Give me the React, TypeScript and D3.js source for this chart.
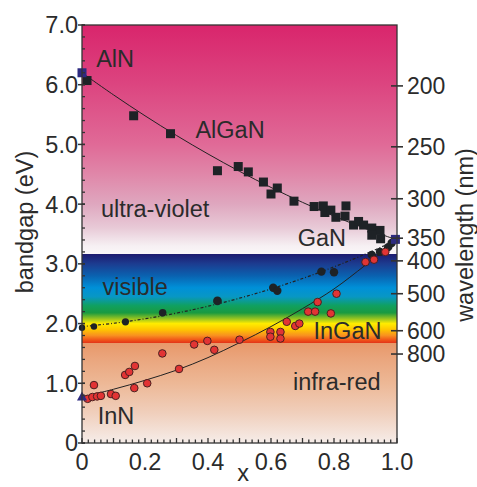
import React from "react";
import * as d3 from "d3";

// ---- data ----
const alganX = [0.016, 0.164, 0.281, 0.43, 0.496, 0.528, 0.576, 0.6, 0.62, 0.673, 0.737, 0.766, 0.771, 0.79, 0.806, 0.838, 0.835, 0.862, 0.878, 0.894, 0.92, 0.946, 0.92, 0.948];
const alganE = [6.07, 5.48, 5.18, 4.56, 4.63, 4.54, 4.37, 4.17, 4.27, 4.05, 3.96, 3.97, 3.86, 3.9, 3.78, 3.97, 3.8, 3.65, 3.71, 3.65, 3.6, 3.56, 3.48, 3.42];
const alganFitX = [0, 0.1, 0.2, 0.3, 0.4, 0.5, 0.6, 0.7, 0.8, 0.9, 1.0];
const alganFitE = [6.2, 5.83, 5.48, 5.15, 4.84, 4.55, 4.28, 4.03, 3.8, 3.59, 3.4];

const ingBlackX = [0.0, 0.038, 0.138, 0.256, 0.43, 0.607, 0.62, 0.76, 0.8, 0.92, 0.946, 0.972, 0.983];
const ingBlackE = [1.93, 1.95, 2.03, 2.18, 2.38, 2.6, 2.55, 2.87, 2.86, 3.15, 3.2, 3.28, 3.35];
const ingBlackR = [3.2, 3.2, 3.6, 3.8, 4.4, 4.2, 4.2, 4.2, 4.2, 4.2, 4.2, 4.2, 4.2];
const ingBlackFitX = [0, 0.1, 0.2, 0.3, 0.4, 0.5, 0.6, 0.7, 0.8, 0.9, 1.0];
const ingBlackFitE = [1.95, 2.005, 2.08, 2.175, 2.29, 2.425, 2.58, 2.755, 2.95, 3.165, 3.4];

const ingRedX = [0.018, 0.033, 0.048, 0.06, 0.038, 0.092, 0.107, 0.137, 0.15, 0.168, 0.166, 0.207, 0.255, 0.308, 0.356, 0.398, 0.42, 0.5, 0.598, 0.598, 0.63, 0.63, 0.65, 0.677, 0.69, 0.718, 0.74, 0.748, 0.79, 0.808, 0.9, 0.927, 0.963];
const ingRedE = [0.74, 0.77, 0.78, 0.79, 0.97, 0.82, 0.79, 1.14, 1.19, 1.29, 0.92, 1.0, 1.5, 1.24, 1.65, 1.71, 1.56, 1.73, 1.86, 1.78, 1.86, 1.75, 2.03, 1.96, 2.0, 2.2, 2.2, 2.36, 2.17, 2.5, 3.03, 3.07, 3.2];
const ingRedFitX = [0, 0.1, 0.2, 0.3, 0.4, 0.5, 0.6, 0.7, 0.8, 0.9, 1.0];
const ingRedFitE = [0.77, 0.9, 1.05, 1.22, 1.43, 1.68, 1.95, 2.25, 2.58, 2.98, 3.4];

const binaryNames = ["AlN", "GaN", "InN"];
const binaryX = [0, 0.995, 0];
const binaryE = [6.2, 3.41, 0.78];
const binaryShape = ["square", "square", "triangle"];

const yTicks = [0, 1, 2, 3, 4, 5, 6, 7];
const yTickLabels = ["0", "1.0", "2.0", "3.0", "4.0", "5.0", "6.0", "7.0"];
const xTicks = [0, 0.2, 0.4, 0.6, 0.8, 1.0];
const xTickLabels = ["0", "0.2", "0.4", "0.6", "0.8", "1.0"];
const wlLabels = ["200", "250", "300", "350", "400", "500", "600", "800"];
const wlEnergy = [5.98, 4.96, 4.09, 3.43, 3.05, 2.5, 1.88, 1.49];

const regionLabels = ["AlN", "AlGaN", "ultra-violet", "GaN", "visible", "InGaN", "infra-red", "InN"];
const regionLabelX = [0.045, 0.36, 0.06, 0.685, 0.065, 0.735, 0.67, 0.05];
const regionLabelE = [6.3, 5.1, 3.79, 3.3, 2.48, 1.75, 0.89, 0.32];

// background colour stops (energy, colour)
const bgE = [7.0, 6.0, 5.0, 4.5, 4.0, 3.6, 3.3, 3.17, 3.17, 3.0, 2.8, 2.6, 2.45, 2.3, 2.18, 2.08, 2.0, 1.9, 1.8, 1.72, 1.67, 1.67, 1.4, 1.0, 0.5, 0.0];
const bgC = ["#d9256c", "#dc4580", "#e06a97", "#e087a9", "#dfa7bf", "#e8cad7", "#f6f0f3", "#faf6f8", "#1e1a6e", "#1c3c90", "#0a62b0", "#0090d8", "#0897c4", "#10a060", "#1a9a40", "#98c420", "#ffec00", "#ffc600", "#f89020", "#f05018", "#e03018", "#e8986a", "#eaa67e", "#edb896", "#f0cfbc", "#f6ede9"];

const W = 477, H = 487;
const FONT = "'Liberation Sans', Arial, Helvetica, sans-serif";
const TXT = "#2b2b2b";

export default function App() {
  const x = d3.scaleLinear().domain([0, 1]).range([82, 397]);
  const y = d3.scaleLinear().domain([0, 7]).range([443, 25]);
  const line = d3.line<[number, number]>().x(d => x(d[0])).y(d => y(d[1])).curve(d3.curveCatmullRom);

  const alganFit = alganFitX.map((v, i) => [v, alganFitE[i]] as [number, number]);
  const blackFit = ingBlackFitX.map((v, i) => [v, ingBlackFitE[i]] as [number, number]);
  const redFit = ingRedFitX.map((v, i) => [v, ingRedFitE[i]] as [number, number]);

  const minorY = d3.range(0, 7.001, 0.2);
  const minorX = d3.range(0, 1.0001, 0.02);

  return (
    <svg width={W} height={H} style={{ position: "absolute", left: 0, top: 0 }} fontFamily={FONT}>
      <defs>
        <linearGradient id="bg" gradientUnits="userSpaceOnUse" x1={0} x2={0} y1={y(7)} y2={y(0)}>
          {bgE.map((e, i) => (
            <stop key={i} offset={(7 - e) / 7} stopColor={bgC[i]} />
          ))}
        </linearGradient>
        <clipPath id="plot">
          <rect x={x(0)} y={y(7)} width={x(1) - x(0)} height={y(0) - y(7)} />
        </clipPath>
      </defs>
      <rect x={x(0)} y={y(7)} width={x(1) - x(0)} height={y(0) - y(7)} fill="url(#bg)" />

      <g clipPath="url(#plot)">
        <path d={line(alganFit) || ""} fill="none" stroke="#222" strokeWidth={1} />
        <path d={line(blackFit) || ""} fill="none" stroke="#222" strokeWidth={1.2} strokeDasharray="3,2,1,2" />
        <path d={line(redFit) || ""} fill="none" stroke="#222" strokeWidth={1} />
      </g>
      {alganX.map((v, i) => (
        <rect key={"a" + i} x={x(v) - 4.5} y={y(alganE[i]) - 4.5} width={9} height={9} fill="#1e2226" />
      ))}
      {ingBlackX.map((v, i) => (
        <circle key={"b" + i} cx={x(v)} cy={y(ingBlackE[i])} r={ingBlackR[i]} fill="#1e2226" />
      ))}
      {ingRedX.map((v, i) => (
        <circle key={"r" + i} cx={x(v)} cy={y(ingRedE[i])} r={3.8} fill="#e23434" stroke="#4a2020" strokeWidth={1} />
      ))}
      {binaryX.map((v, i) =>
        binaryShape[i] === "square" ? (
          <rect key={"n" + i} x={x(v) - 4.5} y={y(binaryE[i]) - 4.5} width={9} height={9} fill="#2d2a80" />
        ) : (
          <path key={"t" + i} d={`M${x(v) - 5},${y(binaryE[i]) + 4} L${x(v) + 5},${y(binaryE[i]) + 4} L${x(v)},${y(binaryE[i]) - 5} Z`} fill="#2d2a80" />
        )
      )}

      {/* frame */}
      <rect x={x(0)} y={y(7)} width={x(1) - x(0)} height={y(0) - y(7)} fill="none" stroke="#333" strokeWidth={1.3} />

      {/* left axis ticks */}
      {minorY.map((v, i) => (
        <line key={"my" + i} x1={x(0)} x2={x(0) + 3} y1={y(v)} y2={y(v)} stroke="#333" strokeWidth={1.3} />
      ))}
      {yTicks.map((v, i) => (
        <g key={"yt" + i}>
          <line x1={x(0) - 4} x2={x(0) + 3} y1={y(v)} y2={y(v)} stroke="#333" strokeWidth={1.5} />
          <text x={x(0) - 4} y={y(v)} dy="0.36em" textAnchor="end" fontSize={23.5} fill={TXT}>{yTickLabels[i]}</text>
        </g>
      ))}

      {/* bottom axis ticks */}
      {minorX.map((v, i) => (
        <line key={"mx" + i} x1={x(v)} x2={x(v)} y1={y(0)} y2={y(0) - (i % 5 === 0 ? 5 : 3.5)} stroke="#333" strokeWidth={1.3} />
      ))}
      {xTicks.map((v, i) => (
        <text key={"xt" + i} x={x(v)} y={470} textAnchor="middle" fontSize={23.5} fill={TXT}>{xTickLabels[i]}</text>
      ))}

      {/* right axis (wavelength) */}
      {wlEnergy.map((e, i) => (
        <g key={"wl" + i}>
          <line x1={x(1) - 6} x2={x(1) + 6} y1={y(e)} y2={y(e)} stroke="#333" strokeWidth={1.6} />
          <text x={x(1) + 10} y={y(e)} dy="0.36em" fontSize={23} fill={TXT}>{wlLabels[i]}</text>
        </g>
      ))}

      {/* region / material labels */}
      {regionLabels.map((t, i) => (
        <text key={"rl" + i} x={x(regionLabelX[i])} y={y(regionLabelE[i])} fontSize={23.5} fill={TXT}>{t}</text>
      ))}

      {/* axis titles */}
      <text transform={`translate(33,222) rotate(-90)`} textAnchor="middle" fontSize={23.5} fill={TXT}>bandgap (eV)</text>
      <text transform={`translate(473,235) rotate(-90)`} textAnchor="middle" fontSize={23.5} fill={TXT}>wavelength (nm)</text>
      <text x={243} y={481} textAnchor="middle" fontSize={23.5} fill={TXT}>x</text>
    </svg>
  );
}
